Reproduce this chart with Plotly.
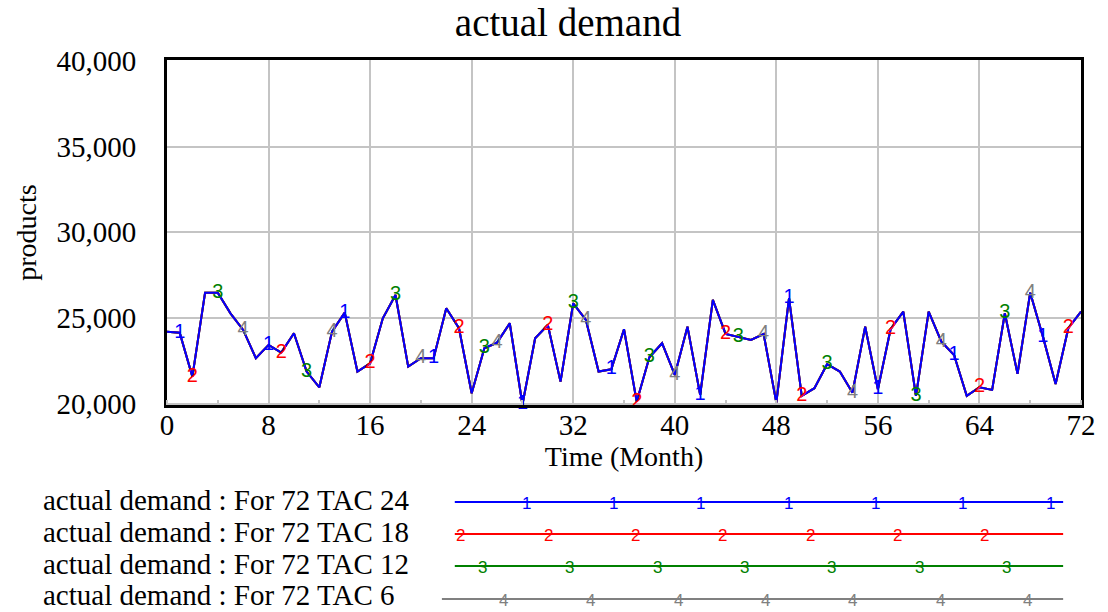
import plotly.graph_objects as go

# ---------------- data ----------------
months = list(range(0, 73))

demand_tac24 = [24200, 24140, 21575, 26475, 26475, 25270, 24300, 22650, 23425, 22975,
                24105, 21870, 20955, 24200, 25310, 21870, 22355, 24980, 26340, 22160,
                22650, 22650, 25565, 24400, 20605, 23230, 23560, 24690, 19950, 23815,
                24590, 21285, 25855, 24885, 21870, 22005, 24340, 20115, 22705, 23525,
                21675, 24490, 20510, 26050, 24065, 23910, 23715, 24065, 20060, 26150,
                20450, 20900, 22300, 21870, 20640, 24490, 20840, 24340, 25370, 20450,
                25370, 23620, 22840, 20450, 20955, 20800, 25270, 21735, 26475, 23910,
                21150, 24400, 25370]
# the four runs overlap exactly in the picture
demand_tac18 = list(demand_tac24)
demand_tac12 = list(demand_tac24)
demand_tac6 = list(demand_tac24)

series_names = ["actual demand : For 72 TAC 24", "actual demand : For 72 TAC 18",
                "actual demand : For 72 TAC 12", "actual demand : For 72 TAC 6"]
series_labels = ["1", "2", "3", "4"]
series_colors = ["#0000FF", "#FF0000", "#008000", "#808080"]
series_values = [demand_tac24, demand_tac18, demand_tac12, demand_tac6]
marker_months = [
    [1, 8, 14, 21, 28, 35, 42, 49, 56, 62, 69],
    [2, 9, 16, 23, 30, 37, 44, 50, 57, 64, 71],
    [4, 11, 18, 25, 32, 38, 45, 52, 59, 66],
    [6, 13, 20, 26, 33, 40, 47, 54, 61, 68],
]

x_ticks = [0, 8, 16, 24, 32, 40, 48, 56, 64, 72]
y_ticks = [20000, 25000, 30000, 35000, 40000]
y_tick_text = ["20,000", "25,000", "30,000", "35,000", "40,000"]

# ---------------- layout geometry ----------------
W, H = 1108, 612
L, R, T, B = 167, 20, 60, 207
PW, PH = W - L - R, H - T - B

def pxx(px):
    return (px - L) / PW

def pxy(py):
    return (H - B - py) / PH

SERIF = "Liberation Serif"
SANS = "Liberation Sans"

fig = go.Figure()

# lines (gray first, blue on top)
for i in [3, 2, 1, 0]:
    fig.add_trace(go.Scatter(
        x=months, y=series_values[i], mode="lines", name=series_names[i],
        line=dict(color=series_colors[i], width=2), showlegend=False,
        hoverinfo="skip"))

# numbered markers
for i in [3, 2, 1, 0]:
    idx = marker_months[i]
    fig.add_trace(go.Scatter(
        x=[months[k] for k in idx], y=[series_values[i][k] for k in idx],
        mode="text", text=[series_labels[i]] * len(idx),
        textposition="middle center",
        textfont=dict(family=SANS, size=20, color=series_colors[i]),
        showlegend=False, cliponaxis=False, hoverinfo="skip"))

# ---------------- custom legend ----------------
rows_y = [500, 532, 564, 595]
line_start = [457, 457, 457, 444]
line_end = 1070
line_y = [502, 534, 566, 599]
digit_start = [529, 463, 485, 506]
digit_step = 88

shapes = []
annotations = []
for i in range(4):
    annotations.append(dict(
        text=series_names[i], xref="paper", yref="paper",
        x=pxx(40), y=pxy(rows_y[i]), xanchor="left", yanchor="middle",
        showarrow=False, font=dict(family=SERIF, size=29, color="black")))
    shapes.append(dict(
        type="line", xref="paper", yref="paper",
        x0=pxx(line_start[i]), x1=pxx(line_end),
        y0=pxy(line_y[i]), y1=pxy(line_y[i]),
        line=dict(color=series_colors[i], width=2)))
    for k in range(7):
        annotations.append(dict(
            text=series_labels[i], xref="paper", yref="paper",
            x=pxx(digit_start[i] + k * digit_step), y=pxy(line_y[i] + 1),
            xanchor="center", yanchor="middle", showarrow=False,
            font=dict(family=SANS, size=17, color=series_colors[i])))

fig.update_layout(
    width=W, height=H,
    margin=dict(l=L, r=R, t=T, b=B),
    paper_bgcolor="white", plot_bgcolor="white",
    title=dict(text="actual demand", x=568 / W, xref="container", xanchor="center",
               y=1 - 22 / H, yref="container", yanchor="middle",
               font=dict(family=SERIF, size=39, color="black")),
    shapes=shapes, annotations=annotations,
    showlegend=False,
)

fig.update_xaxes(
    range=[0, 72], tickvals=x_ticks, ticktext=[str(v) for v in x_ticks],
    showgrid=True, gridcolor="#c4c4c4", gridwidth=2,
    showline=True, mirror=True, linecolor="black", linewidth=3,
    ticks="", tickfont=dict(family=SERIF, size=29, color="black"),
    ticklabelstandoff=-8,
    minor=dict(dtick=4, ticks="inside", ticklen=5, tickcolor="#c4c4c4", tickwidth=2, showgrid=False),
    title=dict(text="Time (Month)", font=dict(family=SERIF, size=28, color="black"), standoff=6),
    zeroline=False,
)
fig.update_yaxes(
    range=[19920, 40050], tickvals=y_ticks, ticktext=y_tick_text,
    showgrid=True, gridcolor="#c4c4c4", gridwidth=2,
    showline=True, mirror=True, linecolor="black", linewidth=3,
    ticks="", tickfont=dict(family=SERIF, size=29, color="black"),
    ticklabelstandoff=22,
    title=dict(text="products", font=dict(family=SERIF, size=28, color="black"), standoff=12),
    zeroline=False,
)

fig.write_html("out.html")
